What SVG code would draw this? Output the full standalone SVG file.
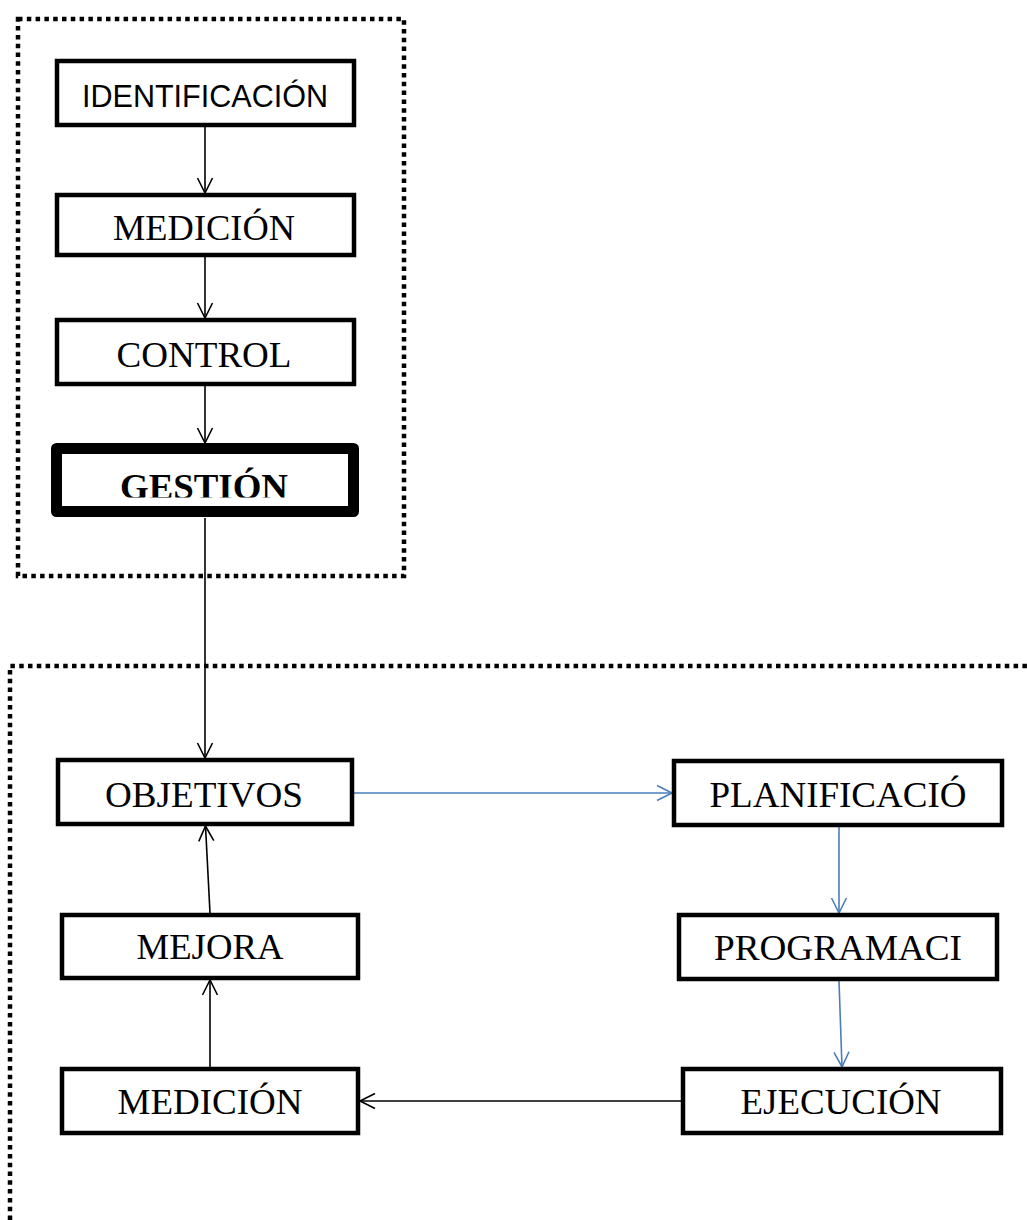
<svg xmlns="http://www.w3.org/2000/svg" width="1027" height="1220" viewBox="0 0 1027 1220">
<style>
.box{fill:#fff;stroke:#000;stroke-width:4.5}
.t{font-family:"Liberation Serif","Times New Roman",serif;font-size:36px;fill:#000;text-anchor:middle}
.s{font-family:"Liberation Sans",Arial,sans-serif;font-size:31px;fill:#000;text-anchor:middle}
.dot{fill:none;stroke:#000;stroke-width:4.5;stroke-dasharray:4.5 4.3}
.k{fill:none;stroke:#000;stroke-width:1.6}
.b{fill:none;stroke:#4A7EBB;stroke-width:1.6}
</style>
<defs>
<marker id="ak" markerUnits="userSpaceOnUse" markerWidth="20" markerHeight="20" viewBox="-16 -10 20 20" refX="0" refY="0" orient="auto">
<path d="M-15,-7.5 L0,0 L-15,7.5" fill="none" stroke="#000" stroke-width="1.6"/>
</marker>
<marker id="ab" markerUnits="userSpaceOnUse" markerWidth="20" markerHeight="20" viewBox="-16 -10 20 20" refX="0" refY="0" orient="auto">
<path d="M-15,-7.5 L0,0 L-15,7.5" fill="none" stroke="#4A7EBB" stroke-width="1.6"/>
</marker>
<clipPath id="gclip"><rect x="60" y="450" width="290" height="47.5"/></clipPath>
</defs>
<rect class="dot" x="18" y="19" width="386" height="557"/>
<path class="dot" d="M10,1220 V666 H1027"/>
<g id="connectors">
<line class="k" x1="205" y1="127" x2="205" y2="193" marker-end="url(#ak)"/>
<line class="k" x1="205" y1="257" x2="205" y2="318" marker-end="url(#ak)"/>
<line class="k" x1="205" y1="386" x2="205" y2="443" marker-end="url(#ak)"/>
<line class="k" x1="205" y1="518" x2="205" y2="758" marker-end="url(#ak)"/>
<line class="b" x1="354" y1="793" x2="672" y2="793" marker-end="url(#ab)"/>
<line class="b" x1="839" y1="827" x2="839" y2="913" marker-end="url(#ab)"/>
<line class="b" x1="839" y1="981" x2="842" y2="1067" marker-end="url(#ab)"/>
<line class="k" x1="681" y1="1101" x2="360" y2="1101" marker-end="url(#ak)"/>
<line class="k" x1="210" y1="1067" x2="210" y2="980" marker-end="url(#ak)"/>
<line class="k" x1="210" y1="913" x2="205.5" y2="826" marker-end="url(#ak)"/>
</g>
<g id="identificacion"><rect class="box" x="57" y="61" width="297" height="64"/><text class="s" x="205" y="107" textLength="246" lengthAdjust="spacingAndGlyphs">IDENTIFICACIÓN</text></g>
<g id="medicion1"><rect class="box" x="57" y="195" width="297" height="60"/><text class="t" x="204" y="240" textLength="182" lengthAdjust="spacingAndGlyphs">MEDICIÓN</text></g>
<g id="control"><rect class="box" x="57" y="320" width="297" height="64"/><text class="t" x="204" y="367" textLength="175" lengthAdjust="spacingAndGlyphs">CONTROL</text></g>
<g id="gestion"><rect class="box" x="56.5" y="448.5" width="297" height="63" style="stroke-width:11;stroke-linejoin:round"/><text class="t" x="204" y="498.5" font-weight="bold" clip-path="url(#gclip)" textLength="168" lengthAdjust="spacingAndGlyphs">GESTIÓN</text></g>
<g id="objetivos"><rect class="box" x="58" y="760" width="294" height="64"/><text class="t" x="204" y="807" textLength="198" lengthAdjust="spacingAndGlyphs">OBJETIVOS</text></g>
<g id="planificacion"><rect class="box" x="674" y="761" width="328" height="64"/><text class="t" x="838" y="807" textLength="257" lengthAdjust="spacingAndGlyphs">PLANIFICACIÓ</text></g>
<g id="mejora"><rect class="box" x="62" y="915" width="296" height="63"/><text class="t" x="210" y="959" textLength="147" lengthAdjust="spacingAndGlyphs">MEJORA</text></g>
<g id="programacion"><rect class="box" x="679" y="915" width="318" height="64"/><text class="t" x="838" y="960" textLength="248" lengthAdjust="spacingAndGlyphs">PROGRAMACI</text></g>
<g id="medicion2"><rect class="box" x="62" y="1069" width="296" height="64"/><text class="t" x="210" y="1114" textLength="185" lengthAdjust="spacingAndGlyphs">MEDICIÓN</text></g>
<g id="ejecucion"><rect class="box" x="683" y="1069" width="318" height="64"/><text class="t" x="841" y="1114" textLength="201" lengthAdjust="spacingAndGlyphs">EJECUCIÓN</text></g>
</svg>
